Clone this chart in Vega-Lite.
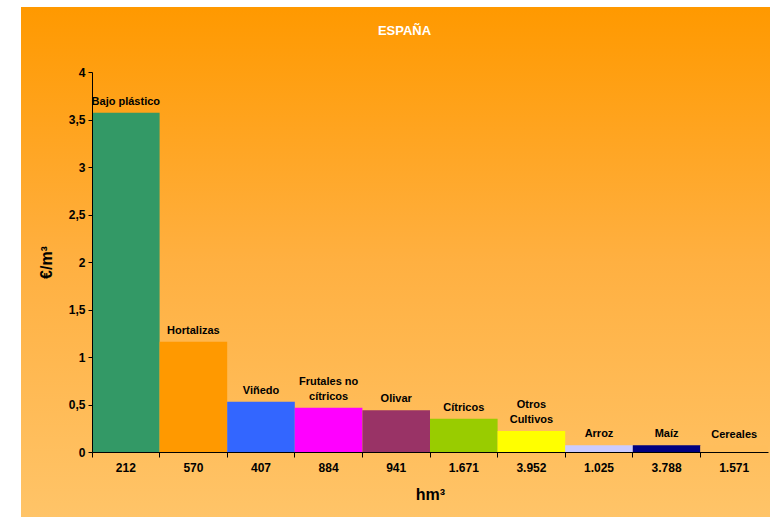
{
  "$schema": "https://vega.github.io/schema/vega-lite/v6.json",
  "width": 749,
  "height": 510,
  "autosize": {"type": "none"},
  "padding": {"left": 21, "top": 7, "right": 0, "bottom": 0},
  "background": "white",
  "config": {
    "view": {"stroke": null},
    "font": "Liberation Sans",
    "axis": {"labelFont": "Liberation Sans", "titleFont": "Liberation Sans", "labelColor": "#000000", "titleColor": "#000000", "domainColor": "#000000", "tickColor": "#000000", "labelFontWeight": "bold", "labelFontSize": 12, "titleFontSize": 16, "titleFontWeight": "bold", "grid": false}
  },
  "title": {"text": "ESPAÑA", "color": "white", "fontSize": 13, "fontWeight": "bold", "font": "Liberation Sans", "anchor": "middle", "frame": "group", "offset": -37, "baseline": "middle", "dx": 9},
  "datasets": {
    "crops": [
      {"cultivo": "Bajo plástico", "l1": "", "l2": "Bajo plástico", "hm3": "212", "v": 3.57},
      {"cultivo": "Hortalizas", "l1": "", "l2": "Hortalizas", "hm3": "570", "v": 1.16},
      {"cultivo": "Viñedo", "l1": "", "l2": "Viñedo", "hm3": "407", "v": 0.53},
      {"cultivo": "Frutales no cítricos", "l1": "Frutales no", "l2": "cítricos", "hm3": "884", "v": 0.465},
      {"cultivo": "Olivar", "l1": "", "l2": "Olivar", "hm3": "941", "v": 0.44},
      {"cultivo": "Cítricos", "l1": "", "l2": "Cítricos", "hm3": "1.671", "v": 0.35},
      {"cultivo": "Otros Cultivos", "l1": "Otros", "l2": "Cultivos", "hm3": "3.952", "v": 0.22},
      {"cultivo": "Arroz", "l1": "", "l2": "Arroz", "hm3": "1.025", "v": 0.07},
      {"cultivo": "Maíz", "l1": "", "l2": "Maíz", "hm3": "3.788", "v": 0.07},
      {"cultivo": "Cereales", "l1": "", "l2": "Cereales", "hm3": "1.571", "v": 0.065}
    ]
  },
  "layer": [
    {
      "data": {"values": [{}]},
      "mark": {"type": "rect", "fill": {"gradient": "linear", "x1": 0, "y1": 0, "x2": 0, "y2": 1, "stops": [{"offset": 0, "color": "#FF9900"}, {"offset": 0.5, "color": "#FFB041"}, {"offset": 1, "color": "#FFC468"}]}},
      "encoding": {}
    },
    {
      "data": {"name": "crops"},
      "mark": {"type": "bar"},
      "encoding": {
        "x": {"field": "hm3", "type": "nominal", "sort": null,
          "scale": {"range": [71, 747], "paddingInner": 0, "paddingOuter": 0},
          "axis": {"zindex": 1, "orient": "bottom", "bandPosition": 0, "labels": false, "ticks": true, "tickSize": 5, "domain": true, "title": null, "offset": -65}},
        "y": {"field": "v", "type": "quantitative",
          "scale": {"domain": [0, 4], "range": [445, 65], "nice": false, "zero": true},
          "axis": {"zindex": 1, "values": [0, 0.5, 1, 1.5, 2, 2.5, 3, 3.5, 4], "labelExpr": "replace(format(datum.value, '~r'), '.', ',')", "tickSize": 4, "labelPadding": 3, "title": "€/m³", "titlePadding": 14, "offset": -71}},
        "color": {"field": "cultivo", "type": "nominal", "legend": null,
          "scale": {"domain": ["Bajo plástico", "Hortalizas", "Viñedo", "Frutales no cítricos", "Olivar", "Cítricos", "Otros Cultivos", "Arroz", "Maíz", "Cereales"],
            "range": ["#339966", "#FF9900", "#3366FF", "#FF00FF", "#993366", "#99CC00", "#FFFF00", "#CCCCFF", "#000080", "#FFBE5C"]}}
      }
    },
    {
      "data": {"name": "crops"},
      "mark": {"type": "text", "baseline": "bottom", "dy": -6, "fontSize": 11, "fontWeight": "bold", "font": "Liberation Sans", "color": "#000000"},
      "encoding": {
        "x": {"field": "hm3", "type": "nominal", "sort": null,
          "axis": {"zindex": 1, "orient": "bottom", "labels": true, "ticks": false, "domain": false, "labelPadding": 10, "labelAngle": 0, "title": "hm³", "titlePadding": 13, "offset": -65}},
        "y": {"field": "v", "type": "quantitative", "axis": null},
        "text": {"field": "l2"}
      }
    },
    {
      "data": {"name": "crops"},
      "mark": {"type": "text", "baseline": "bottom", "dy": -21, "fontSize": 11, "fontWeight": "bold", "font": "Liberation Sans", "color": "#000000"},
      "encoding": {
        "x": {"field": "hm3", "type": "nominal", "sort": null, "axis": null},
        "y": {"field": "v", "type": "quantitative", "axis": null},
        "text": {"field": "l1"}
      }
    }
  ],
  "resolve": {"axis": {"x": "independent", "y": "independent"}}
}
